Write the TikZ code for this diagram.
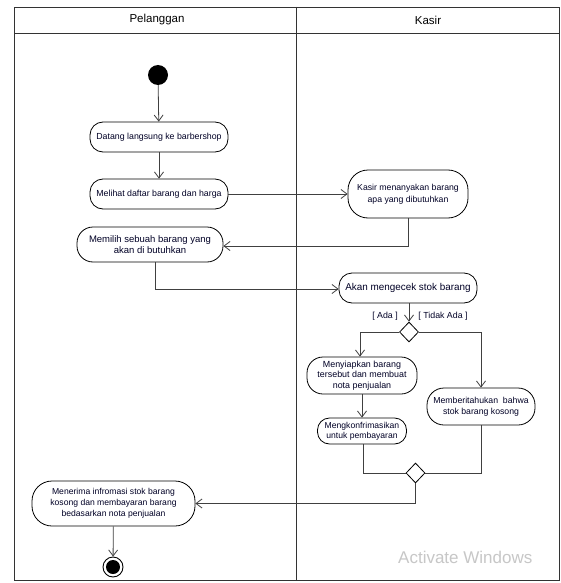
\documentclass[tikz,border=0pt]{standalone}
\usepackage{fontspec}
\setmainfont{Liberation Sans}
\usetikzlibrary{arrows.meta,shapes.geometric}
\begin{document}
\begin{tikzpicture}[x=1pt,y=-1pt,
  act/.style={draw=black, line width=0.8pt, rounded corners=#1, inner sep=0pt, align=center, text=black!85!blue},
  act/.default=13pt,
  flow/.style={draw=black!75, line width=0.8pt},
  arr/.style={flow, -{Straight Barb[length=6pt,width=9pt]}},
  dec/.style={draw=black, line width=0.8pt, diamond, minimum width=19pt, minimum height=20pt, inner sep=0pt, fill=white},
  lane/.style={draw=black!80, line width=0.8pt},
  guard/.style={font=\fontsize{8.8}{10}\selectfont, text=black!85!blue, inner sep=0pt}
]
\useasboundingbox (0,0) rectangle (561,583);
\fill[white] (0,0) rectangle (561,583);
% swimlanes
\draw[lane] (14,7) rectangle (559,580);
\draw[lane] (14,33) -- (559,33);
\draw[lane] (296,7) -- (296,580);
\node[font=\fontsize{11.5}{13}\selectfont] (hp) at (157,20) {Pelanggan};
\node[font=\fontsize{11.5}{13}\selectfont] (hk) at (428,20) {Kasir};

% nodes
\node[circle, fill=black, minimum size=20pt, inner sep=0pt] (start) at (158,75) {};
\node[act, minimum width=138pt, minimum height=30pt, font=\fontsize{8.8}{10.5}\selectfont] (d1) at (159,137) {Datang langsung ke barbershop};
\node[act, minimum width=138pt, minimum height=30pt, font=\fontsize{8.8}{10.5}\selectfont] (d2) at (159,194) {Melihat daftar barang dan harga};
\node[act=20pt, minimum width=120pt, minimum height=48pt, font=\fontsize{8.7}{11.5}\selectfont] (k1) at (408,194) {Kasir menanyakan barang\\apa yang dibutuhkan};
\node[act=16pt, minimum width=146pt, minimum height=35pt, font=\fontsize{9.5}{11.5}\selectfont] (d3) at (150,244.5) {Memilih sebuah barang yang\\akan di butuhkan};
\node[act, minimum width=138pt, minimum height=30pt, font=\fontsize{9.9}{11}\selectfont] (k2) at (408,288) {Akan mengecek stok barang};
\node[dec] (dec1) at (409,332) {};
\node[act=16pt, minimum width=110pt, minimum height=37pt, font=\fontsize{8.9}{10.3}\selectfont] (k3) at (362,375.5) {Menyiapkan barang\\tersebut dan membuat\\nota penjualan};
\node[act=12pt, minimum width=89pt, minimum height=26pt, font=\fontsize{8.6}{10.2}\selectfont] (k4) at (362,431) {Mengkonfrimasikan\\untuk pembayaran};
\node[act=17pt, minimum width=108pt, minimum height=37pt, font=\fontsize{8.7}{11.5}\selectfont] (k5) at (481,406.5) {Memberitahukan\ \ bahwa\\stok barang kosong};
\node[dec] (dec2) at (415.5,473) {};
\node[act=20pt, minimum width=163pt, minimum height=45pt, font=\fontsize{8.6}{11}\selectfont] (d4) at (113.5,503.5) {Menerima infromasi stok barang\\kosong dan membayaran barang\\bedasarkan nota penjualan};
\node[circle, draw=black, line width=0.9pt, minimum size=20pt, inner sep=0pt] (end) at (113,567) {};
\node[circle, fill=black, minimum size=14pt, inner sep=0pt] (endin) at (113,567) {};

% guards
\node[guard] (ga) at (385,316) {[ Ada ]};
\node[guard] (gt) at (443,316) {[ Tidak Ada ]};

% connectors
\draw[arr] (start) -- (d1);
\draw[arr] (d1) -- (d2);
\draw[arr] (d2) -- (k1);
\draw[arr] (k1.south) |- ([yshift=-1.5pt]d3.east);
\draw[arr] ([xshift=5pt]d3.south) |- ([yshift=-1pt]k2.west);
\draw[arr] ([xshift=1pt]k2.south) -- (dec1.north);
\draw[arr] (dec1.west) -| ([xshift=-2pt]k3.north);
\draw[arr] (dec1.east) -| (k5.north);
\draw[arr] (k3) -- (k4);
\draw[flow] ([xshift=1pt]k4.south) |- (dec2.west);
\draw[flow] (k5.south) |- (dec2.east);
\draw[arr] (dec2.south) |- (d4.east);
\draw[arr] (d4) -- (end);

% watermark
\node[text=black!22, font=\fontsize{17}{20}\selectfont, anchor=west, inner sep=0pt] (wm) at (398,557) {Activate Windows};
\end{tikzpicture}
\end{document}
